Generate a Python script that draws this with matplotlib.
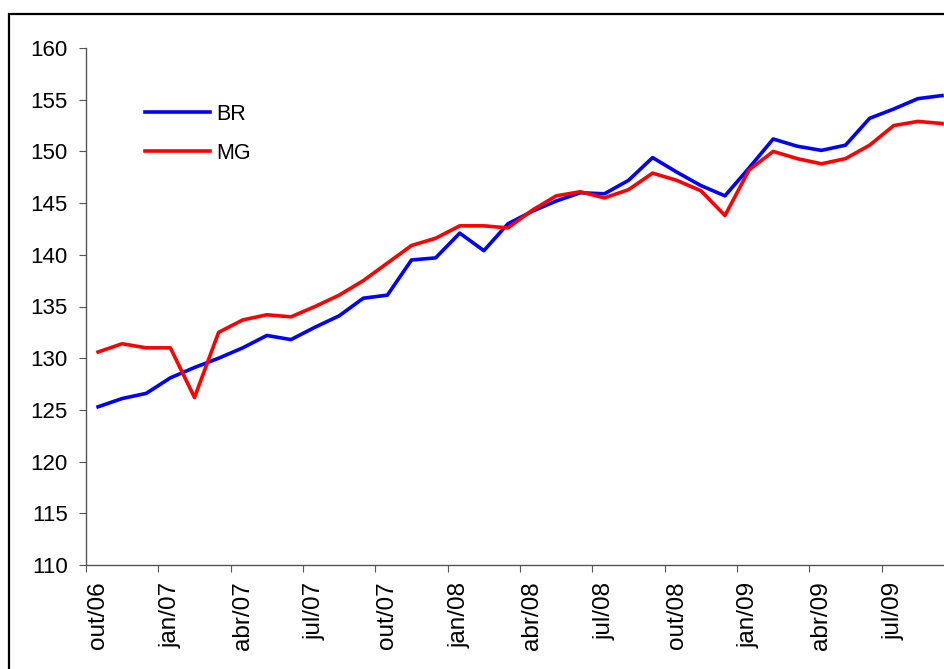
import numpy as np
import matplotlib.pyplot as plt
from matplotlib.patches import Rectangle

# meses de out/06 a set/09
meses = ['out', 'nov', 'dez', 'jan', 'fev', 'mar', 'abr', 'mai', 'jun', 'jul', 'ago', 'set']
anos = [6] * 3 + [7] * 12 + [8] * 12 + [9] * 9
rotulos = ['%s/%02d' % (meses[i % 12], anos[i]) for i in range(36)]

br = [125.3, 126.1, 126.6, 128.1, 129.1, 130.0, 131.0, 132.2, 131.8, 133.0, 134.1, 135.8,
      136.1, 139.5, 139.7, 142.1, 140.4, 143.0, 144.2, 145.2, 146.0, 145.9, 147.2,
      149.4, 148.0, 146.7, 145.7, 148.4, 151.2, 150.5, 150.1, 150.6, 153.2, 154.1, 155.1, 155.4]
mg = [130.6, 131.4, 131.0, 131.0, 126.2, 132.5, 133.7, 134.2, 134.0, 135.0, 136.1, 137.5,
      139.2, 140.9, 141.6, 142.8, 142.8, 142.6, 144.3, 145.7, 146.1, 145.5, 146.3,
      147.9, 147.2, 146.2, 143.8, 148.2, 150.0, 149.3, 148.8, 149.3, 150.6, 152.5, 152.9, 152.7]

plt.rcParams['font.family'] = ['Liberation Sans', 'DejaVu Sans']

fig = plt.figure(figsize=(9.44, 6.69), dpi=100)
fig.patches.append(Rectangle((9 / 944, -0.1), 1.2, 1 - 14 / 669 + 0.1, transform=fig.transFigure,
                             fill=False, edgecolor='black', linewidth=1.6))
ax = fig.add_axes([86 / 944, 104 / 669, 868 / 944, 517 / 669])

x = np.arange(len(br))
ax.plot(x, br, color='#0000FF', lw=2.6, label='BR')
ax.plot(x, mg, color='#FF0000', lw=2.6, label='MG')

ax.set_xlim(-0.5, len(br) - 0.5)
ax.set_ylim(110, 160)
ax.set_yticks(range(110, 161, 5))

ax.set_xticks(np.arange(-0.5, len(br), 3))
ax.set_xticklabels([])
ax.set_xticks(x[::3], minor=True)
ax.set_xticklabels(rotulos[::3], minor=True, rotation=90)
ax.tick_params(axis='x', which='minor', length=0, pad=12, labelsize=17.5)
ax.tick_params(axis='x', which='major', length=5, color='#555555')
ax.tick_params(axis='y', length=5, color='#555555', labelsize=16, pad=8)

for s in ['top', 'right']:
    ax.spines[s].set_visible(False)
for s in ['left', 'bottom']:
    ax.spines[s].set_color('#555555')
    ax.spines[s].set_linewidth(1.0)

ax.legend(loc='upper left', bbox_to_anchor=(0.046, 0.93), frameon=False, fontsize=15.5,
          handlelength=3.0, labelspacing=0.85, handletextpad=0.3)

fig.savefig('out.png', dpi=100)
